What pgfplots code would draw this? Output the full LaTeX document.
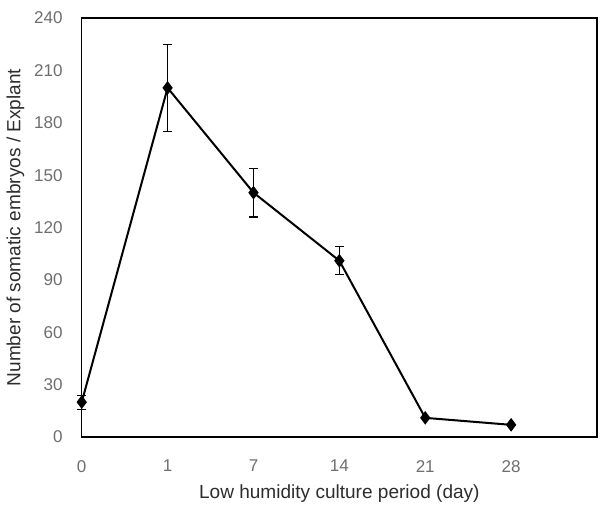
\documentclass[border=0pt]{standalone}
\usepackage{pgfplots}
\pgfplotsset{compat=1.18}
\usepackage{fontspec}
\setmainfont{Liberation Sans}
\definecolor{tick}{RGB}{110,110,110}
\definecolor{lab}{RGB}{45,45,45}

\begin{document}
\begin{tikzpicture}
\begin{axis}[
  scale only axis,
  width=257pt,
  height=209pt,
  xmin=0, xmax=6,
  ymin=0, ymax=240,
  xtick={0,1,2,3,4,5},
  xticklabels={0,1,7,14,21,28},
  ytick={0,30,60,90,120,150,180,210,240},
  major tick length=0pt,
  /pgf/number format/assume math mode=true,
  ticklabel style={font=\fontsize{8.5}{10}\selectfont, text=tick},
  yticklabel style={xshift=-6pt},
  xticklabel style={yshift=-8pt},
  xlabel={Low humidity culture period (day)},
  ylabel={Number of somatic embryos / Explant},
  label style={font=\fontsize{9.5}{11}\selectfont, text=lab},
  xlabel style={yshift=0.5pt},
  ylabel style={yshift=-2pt},
  axis line style={black, line width=0.7pt},
  clip=false,
]
\addplot[black, line width=1pt, mark=diamond*, mark size=2.6pt,
  error bars/.cd, y dir=both, y explicit,
  error bar style={line width=0.6pt},
  error mark options={rotate=90, mark size=2.2pt, line width=0.6pt}]
  coordinates {
  (0,20)  +- (0,4)
  (1,200) +- (0,25)
  (2,140) +- (0,14)
  (3,101) +- (0,8)
  (4,11)  +- (0,0)
  (5,7)   +- (0,0)
};
\path (rel axis cs:1,1) ++(2.5pt,9pt);
\end{axis}
\end{tikzpicture}
\end{document}
